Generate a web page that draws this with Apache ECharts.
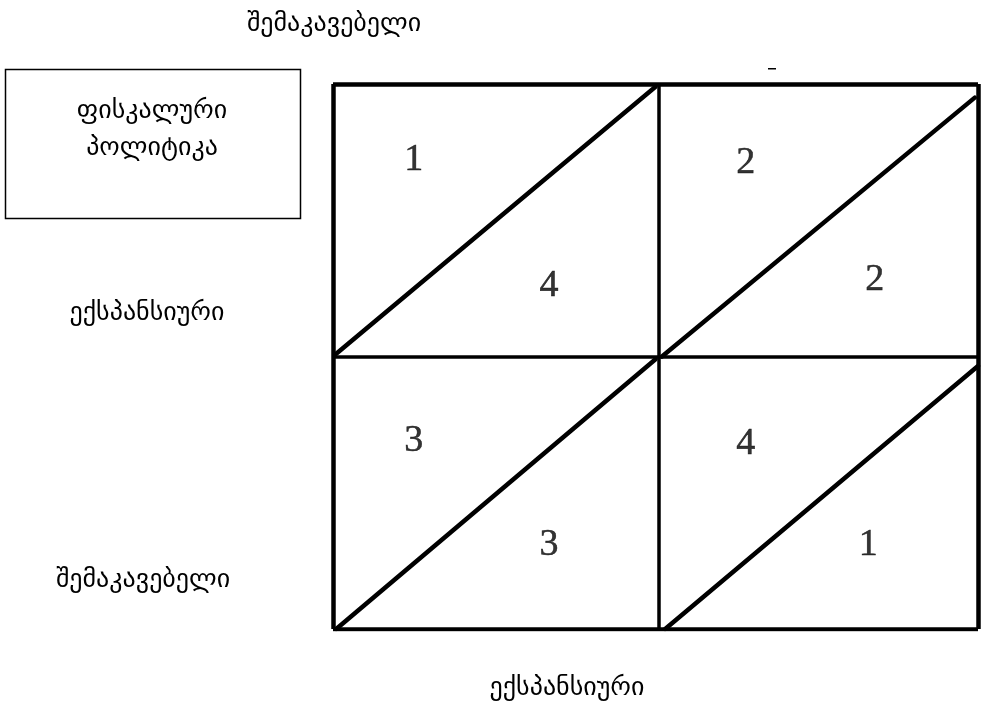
<!DOCTYPE html>
<html>
<head>
<meta charset="utf-8">
<script src="https://cdn.jsdelivr.net/npm/echarts@6/dist/echarts.min.js"></script>
<style>
  html, body { margin: 0; padding: 0; background: #fff; }
  #chart { width: 985px; height: 706px; }
</style>
</head>
<body>
<div id="chart"></div>
<script>
// box borders in data units (x 0..2, y 0..2)
const outerLines = [
  [[0, 0], [2, 0]],
  [[0, 2], [2, 2]],
  [[0, 0], [0, 2]],
  [[2, 0], [2, 2]],
]
const innerLines = [
  [[1.01, 0], [1.01, 2]],
  [[0, 1], [2, 1]],
]
const diagonals = [
  [[0.01, 1.01], [1, 1.99]],
  [[1.02, 1.0], [1.99, 1.95]],
  [[0.01, 0.0], [1, 0.99]],
  [[1.03, 0.0], [2, 0.965]],
]
// cell numbers: [x, y, label]
const cellNumbers = [
  [0.25, 1.72, '1'],
  [0.67, 1.26, '4'],
  [1.28, 1.71, '2'],
  [1.68, 1.28, '2'],
  [0.25, 0.69, '3'],
  [0.67, 0.31, '3'],
  [1.28, 0.68, '4'],
  [1.66, 0.31, '1'],
]
const topLabel = 'შემაკავებელი'
const bottomLabel = 'ექსპანსიური'
const rowLabels = ['ექსპანსიური', 'შემაკავებელი']
const boxLines = ['ფისკალური', 'პოლიტიკა']

const geoFont = '26px "DejaVu Sans", sans-serif'

function segs(list) {
  return list.map(c => ({ coords: c }))
}

function label(text, x, y) {
  return {
    type: 'text',
    style: { text: text, font: geoFont, fill: '#000', x: x, y: y, align: 'center', verticalAlign: 'middle' },
  }
}

const chart = echarts.init(document.getElementById('chart'))
chart.setOption({
  animation: false,
  grid: { left: 333, top: 84, right: 7, bottom: 77 },
  xAxis: { type: 'value', min: 0, max: 2, show: false },
  yAxis: { type: 'value', min: 0, max: 2, show: false },
  series: [
    {
      type: 'lines',
      coordinateSystem: 'cartesian2d',
      polyline: false,
      silent: true,
      lineStyle: { color: '#000', width: 4.5, opacity: 1 },
      data: segs(outerLines),
    },
    {
      type: 'lines',
      coordinateSystem: 'cartesian2d',
      polyline: false,
      silent: true,
      lineStyle: { color: '#000', width: 3.5, opacity: 1 },
      data: segs(innerLines),
    },
    {
      type: 'lines',
      coordinateSystem: 'cartesian2d',
      polyline: false,
      silent: true,
      lineStyle: { color: '#000', width: 4.5, opacity: 1, cap: 'round' },
      data: segs(diagonals),
    },
    {
      type: 'scatter',
      symbolSize: 0,
      silent: true,
      data: cellNumbers,
      label: {
        show: true,
        position: 'inside',
        formatter: p => p.data[2],
        color: '#000',
        fontFamily: 'Liberation Serif',
        fontSize: 38,
        textBorderColor: '#000',
        textBorderWidth: 0.5,
      },
    },
  ],
  graphic: [
    label(topLabel, 334, 24),
    {
      type: 'rect',
      shape: { x: 5.5, y: 69.5, width: 295, height: 149 },
      style: { fill: 'none', stroke: '#000', lineWidth: 1.5 },
    },
    label(boxLines[0], 152, 111),
    label(boxLines[1], 152, 148),
    label(rowLabels[0], 147, 313),
    label(rowLabels[1], 143, 580),
    label(bottomLabel, 567, 688),
    {
      type: 'rect',
      shape: { x: 768, y: 68, width: 8, height: 1.5 },
      style: { fill: '#000' },
    },
  ],
})
</script>
</body>
</html>
